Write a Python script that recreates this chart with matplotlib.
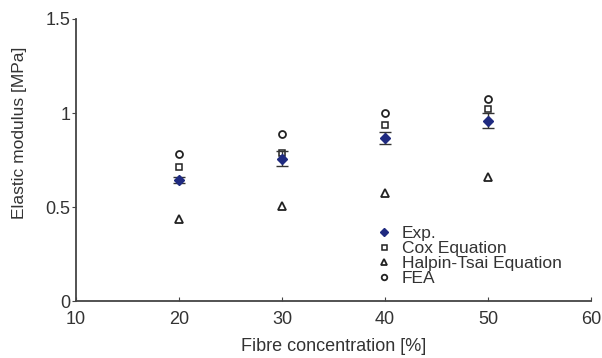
import matplotlib
matplotlib.use("Agg")
import matplotlib.pyplot as plt

conc = [20, 30, 40, 50]
exp_vals = [0.645, 0.757, 0.868, 0.960]
exp_err = [0.015, 0.040, 0.032, 0.040]
cox_vals = [0.712, 0.785, 0.938, 1.023]
halpin_vals = [0.435, 0.508, 0.573, 0.662]
fea_vals = [0.783, 0.886, 1.002, 1.077]

xticks = [10, 20, 30, 40, 50, 60]
yticks = [0, 0.5, 1, 1.5]
yticklabels = ["0", "0.5", "1", "1.5"]

plt.rcParams['font.family'] = ['Liberation Sans', 'DejaVu Sans']
fig = plt.figure(figsize=(6.02, 3.58), dpi=100)
ax = fig.add_axes([0.126, 0.159, 0.856, 0.788])

gray = '#444444'
txt = '#333333'
ax.errorbar(conc, exp_vals, yerr=exp_err, fmt='none',
            ecolor='#333333', elinewidth=1.0, capsize=4, capthick=1.0, zorder=3)
ax.plot(conc, exp_vals, 'D', color='#1f2a80', ms=5, ls='none', label='Exp.', zorder=4)
ax.plot(conc, cox_vals, 's', mfc='white', mec='#222222', mew=1.1, ms=4.5, ls='none', label='Cox Equation')
ax.plot(conc, halpin_vals, '^', mfc='white', mec='#222222', mew=1.3, ms=6, ls='none', label='Halpin-Tsai Equation')
ax.plot(conc, fea_vals, 'o', mfc='white', mec='#222222', mew=1.3, ms=5, ls='none', label='FEA')

ax.set_xlim(10, 60)
ax.set_ylim(0, 1.5)
ax.set_xticks(xticks)
ax.set_yticks(yticks)
ax.set_yticklabels(yticklabels)
for s in ['top', 'right']:
    ax.spines[s].set_visible(False)
for s in ['left', 'bottom']:
    ax.spines[s].set_color(gray)
    ax.spines[s].set_linewidth(1.3)
ax.tick_params(axis='y', direction='out', length=3, color=gray, labelsize=13, labelcolor=txt, pad=1)
ax.tick_params(axis='x', direction='in', length=3, color=gray, labelsize=13, labelcolor=txt, pad=7)
ax.set_xlabel('Fibre concentration [%]', fontsize=13, color=txt, labelpad=7)
ax.set_ylabel('Elastic modulus [MPa]', fontsize=12.5, color=txt)
ax.yaxis.set_label_coords(-0.095, 0.596)

leg = ax.legend(loc='upper left', frameon=False, fontsize=12.5,
                handlelength=0.7, handletextpad=0.7, labelspacing=0.0, borderaxespad=0.0,
                borderpad=0.0, markerscale=0.8)
leg.set_bbox_to_anchor((0.627, 0.37), transform=fig.transFigure)
for t in leg.get_texts():
    t.set_color(txt)

fig.savefig('out.png', dpi=100)
